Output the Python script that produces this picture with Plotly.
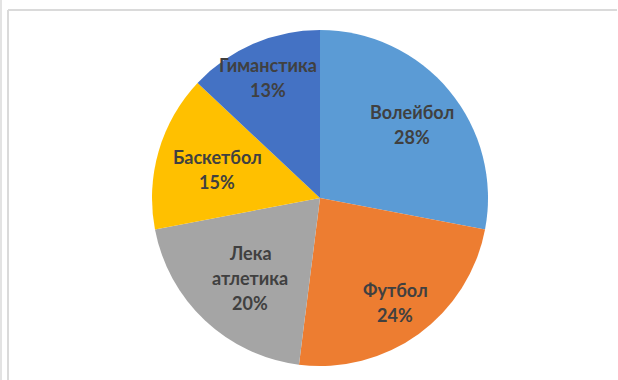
import plotly.graph_objects as go

# Sports share data
sports = ["Волейбол", "Футбол", "Лека атлетика", "Баскетбол", "Гиманстика"]
shares = [28, 24, 20, 15, 13]
colors = ["#5B9BD5", "#ED7D31", "#A5A5A5", "#FFC000", "#4472C4"]

# Label anchor (pixel centre of the first text line) for each slice
label_px = [(412, 112), (395, 290), (250, 253), (217, 157), (268, 65)]

W, H = 618, 380
LINE_STEP = 25

fig = go.Figure(
    go.Pie(
        labels=sports,
        values=shares,
        sort=False,
        direction="clockwise",
        rotation=0,
        marker=dict(colors=colors, line=dict(width=0)),
        textinfo="none",
        hoverinfo="skip",
        showlegend=False,
        domain=dict(x=[(320 - 168) / W, (320 + 168) / W],
                    y=[(H - 198 - 168) / H, (H - 198 + 168) / H]),
    )
)

annotations = []
for name, val, (px, py) in zip(sports, shares, label_px):
    lines = name.split(" ") + [f"{val}%"]
    for i, line in enumerate(lines):
        annotations.append(dict(
            x=px / W, y=1 - (py + i * LINE_STEP) / H,
            xref="paper", yref="paper",
            xanchor="center", yanchor="middle",
            text=f"<b>{line}</b>", showarrow=False,
            font=dict(family="Lato", size=18, color="#404040"),
        ))

# chart frame lines
frame = "#dadada"
shapes = [
    dict(type="line", xref="paper", yref="paper", x0=8 / W, x1=8 / W,
         y0=0, y1=1 - 10 / H, line=dict(color=frame, width=2)),
    dict(type="line", xref="paper", yref="paper", x0=8 / W, x1=617 / W,
         y0=1 - 10 / H, y1=1 - 10 / H, line=dict(color=frame, width=2)),
    dict(type="line", xref="paper", yref="paper", x0=1 / W, x1=1 / W,
         y0=0, y1=1, line=dict(color=frame, width=1.5)),
]

fig.update_layout(
    width=W, height=H,
    margin=dict(l=0, r=0, t=0, b=0),
    paper_bgcolor="white", plot_bgcolor="white",
    annotations=annotations, shapes=shapes,
)

fig.write_html("out.html")
